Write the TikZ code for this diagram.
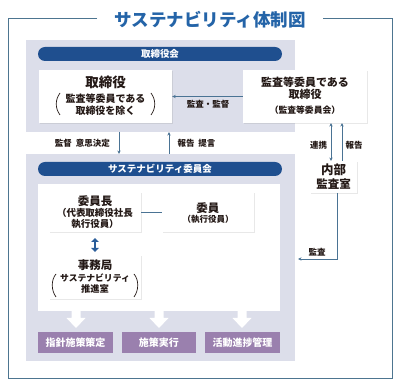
\documentclass[tikz,border=0pt]{standalone}
\usepackage{fontspec}
\setmainfont{Noto Sans CJK JP}
\usetikzlibrary{arrows.meta,shadows}
\definecolor{panel}{HTML}{DCDEEA}
\definecolor{bannerblue}{HTML}{1F4F8F}
\definecolor{purplebox}{HTML}{9A80AE}
\definecolor{linec}{HTML}{4A7394}
\definecolor{framec}{HTML}{4D7590}
\definecolor{titleblue}{HTML}{2464A8}
\definecolor{txt}{HTML}{231815}
\definecolor{dblue}{HTML}{2A5D9A}
\newcommand\fsz[1]{\fontsize{#1}{#1}\selectfont}
\begin{document}
\begin{tikzpicture}[x=1pt,y=-1pt,font=\bfseries,text=txt,
  panelbox/.style={fill=panel,draw=none,inner sep=0pt},
  banner/.style={fill=bannerblue,rounded corners=7pt,text=white,inner sep=0pt,minimum width=244pt,minimum height=14pt,font=\bfseries\fsz{9.5}},
  wbox/.style={fill=white,inner sep=0pt,drop shadow={shadow xshift=0.7pt,shadow yshift=-0.9pt,opacity=0.18}},
  pbox/.style={fill=purplebox,text=white,inner sep=0pt,minimum height=21pt,font=\bfseries\fsz{10}},
  conn/.style={draw=linec,line width=0.8pt},
  tipp/.style={-{Stealth[length=3.5pt,width=3.2pt]}},
  lbl/.style={inner sep=0pt,font=\bfseries\fsz{8.5}},
  warrow/.style={fill=white,draw=none}]
\useasboundingbox (0,0) rectangle (400,387);
\fill[white] (0,0) rectangle (400,387);
% frame and title
\draw[framec,line width=0.9pt] (97,18) -- (8,18) -- (8,378) -- (392,378) -- (392,18) -- (323,18);
\node[text=titleblue,inner sep=0pt,font=\bfseries\fsz{17.5}] (title) at (210,20) {サステナビリティ体制図};
% panels
\node[panelbox,minimum width=269pt,minimum height=92pt] (uppanel) at (160.5,86) {};
\node[panelbox,minimum width=269pt,minimum height=207pt] (lowpanel) at (160.5,257.5) {};
\node[banner] (ban1) at (160,54) {取締役会};
\node[banner] (ban2) at (160,169) {サステナビリティ委員会};
% upper boxes
\node[wbox,minimum width=133pt,minimum height=53pt] (lbox) at (105.5,96.5) {};
\node[inner sep=0pt,font=\bfseries\fsz{13.5}] (lt1) at (105.5,82.5) {取締役};
\node[inner sep=0pt,font=\bfseries\fsz{10}] (lt2) at (105.5,99) {監査等委員である};
\node[inner sep=0pt,font=\bfseries\fsz{10}] (lt3) at (105.5,110.5) {取締役を除く};
\draw[txt,line width=0.7pt] (60,93) .. controls (55,100) and (55,108) .. (60,115);
\draw[txt,line width=0.7pt] (151,93) .. controls (156,100) and (156,108) .. (151,115);
\node[wbox,minimum width=124pt,minimum height=53pt] (rbox) at (305,96.5) {};
\node[inner sep=0pt,font=\bfseries\fsz{11}] (rt1) at (305,82) {監査等委員である};
\node[inner sep=0pt,font=\bfseries\fsz{11}] (rt2) at (305,94.5) {取締役};
\node[inner sep=0pt,font=\bfseries\fsz{8.8}] (rt3) at (305,110) {（監査等委員会）};
\draw[conn,tipp] (rbox.west) -- (lbox.east);
\node[lbl] (l1) at (208,104) {監査・監督};
% between panels
\coordinate (d1) at (119,132); \coordinate (d2) at (119,154);
\coordinate (u1) at (169,154); \coordinate (u2) at (169,132);
\draw[conn,tipp] (d1) -- (d2);
\draw[conn,tipp] (u1) -- (u2);
\node[lbl] (l2) at (82.5,143) {監督\hspace{4pt}意思決定};
\node[lbl] (l3) at (196.5,143) {報告\hspace{4pt}提言};
% inner white area
\node[fill=white,inner sep=0pt,minimum width=242pt,minimum height=127pt] (inner) at (159,247.5) {};
\node[wbox,minimum width=92pt,minimum height=40pt] (chair) at (95,212) {};
\node[inner sep=0pt,font=\bfseries\fsz{11.5}] (ct1) at (95,201) {委員長};
\node[inner sep=0pt,font=\bfseries\fsz{9.5}] (ct2) at (95,213) {（代表取締役社長};
\node[inner sep=0pt,font=\bfseries\fsz{9.5}] (ct3) at (95,224) {執行役員）};
\node[wbox,minimum width=92pt,minimum height=40pt] (memb) at (208,212) {};
\node[inner sep=0pt,font=\bfseries\fsz{11.5}] (mt1) at (208,208) {委員};
\node[inner sep=0pt,font=\bfseries\fsz{8.5}] (mt2) at (208,219.5) {（執行役員）};
\draw[conn] (chair.east) -- (memb.west);
\node[wbox,minimum width=92pt,minimum height=44pt] (secr) at (95,277) {};
\node[inner sep=0pt,font=\bfseries\fsz{11.5}] (st1) at (95,265) {事務局};
\node[inner sep=0pt,font=\bfseries\fsz{8.8}] (st2) at (95,278) {サステナビリティ};
\node[inner sep=0pt,font=\bfseries\fsz{9.3}] (st3) at (95,288.5) {推進室};
\draw[txt,line width=0.7pt] (56,274) .. controls (51,280) and (51,290) .. (56,297);
\draw[txt,line width=0.7pt] (134,274) .. controls (139,280) and (139,290) .. (134,297);
\coordinate (da) at (95,238); \coordinate (db) at (95,252);
\draw[dblue,line width=2.6pt,{Triangle[width=7.5pt,length=4pt]}-{Triangle[width=7.5pt,length=4pt]}] (da) -- (db);
% white arrows
\foreach \cx in {76,159,242}{
  \fill[warrow] (\cx-4.5,311) -- (\cx+4.5,311) -- (\cx+4.5,318) -- (\cx+9.5,318) -- (\cx,328) -- (\cx-9.5,318) -- (\cx-4.5,318) -- cycle;
}
% purple boxes
\node[pbox,minimum width=75pt] (p1) at (75.5,342.5) {指針施策策定};
\node[pbox,minimum width=74pt] (p2) at (159,342.5) {施策実行};
\node[pbox,minimum width=75pt] (p3) at (242.5,342.5) {活動進捗管理};
% internal audit
\node[wbox,minimum width=47pt,minimum height=32pt] (audit) at (333.5,177) {};
\node[inner sep=0pt,font=\bfseries\fsz{12.5}] (at1) at (333.5,169.5) {内部};
\node[inner sep=0pt,font=\bfseries\fsz{11.5}] (at2) at (333.5,184) {監査室};
\coordinate (c1) at (331,123); \coordinate (c2) at (331,161);
\coordinate (r1) at (342,161); \coordinate (r2) at (342,123);
\draw[conn,{Stealth[length=3.5pt,width=3.2pt]}-{Stealth[length=3.5pt,width=3.2pt]}] (c1) -- (c2);
\draw[conn,tipp] (r1) -- (r2);
\node[lbl] (l4) at (318.5,145.5) {連携};
\node[lbl] (l5) at (354,145.5) {報告};
\coordinate (k1) at (337,193); \coordinate (k2) at (337,259); \coordinate (k3) at (298,259);
\draw[conn,tipp] (k1) -- (k2) -- (k3);
\node[lbl] (l6) at (317,252) {監査};
\end{tikzpicture}
\end{document}
